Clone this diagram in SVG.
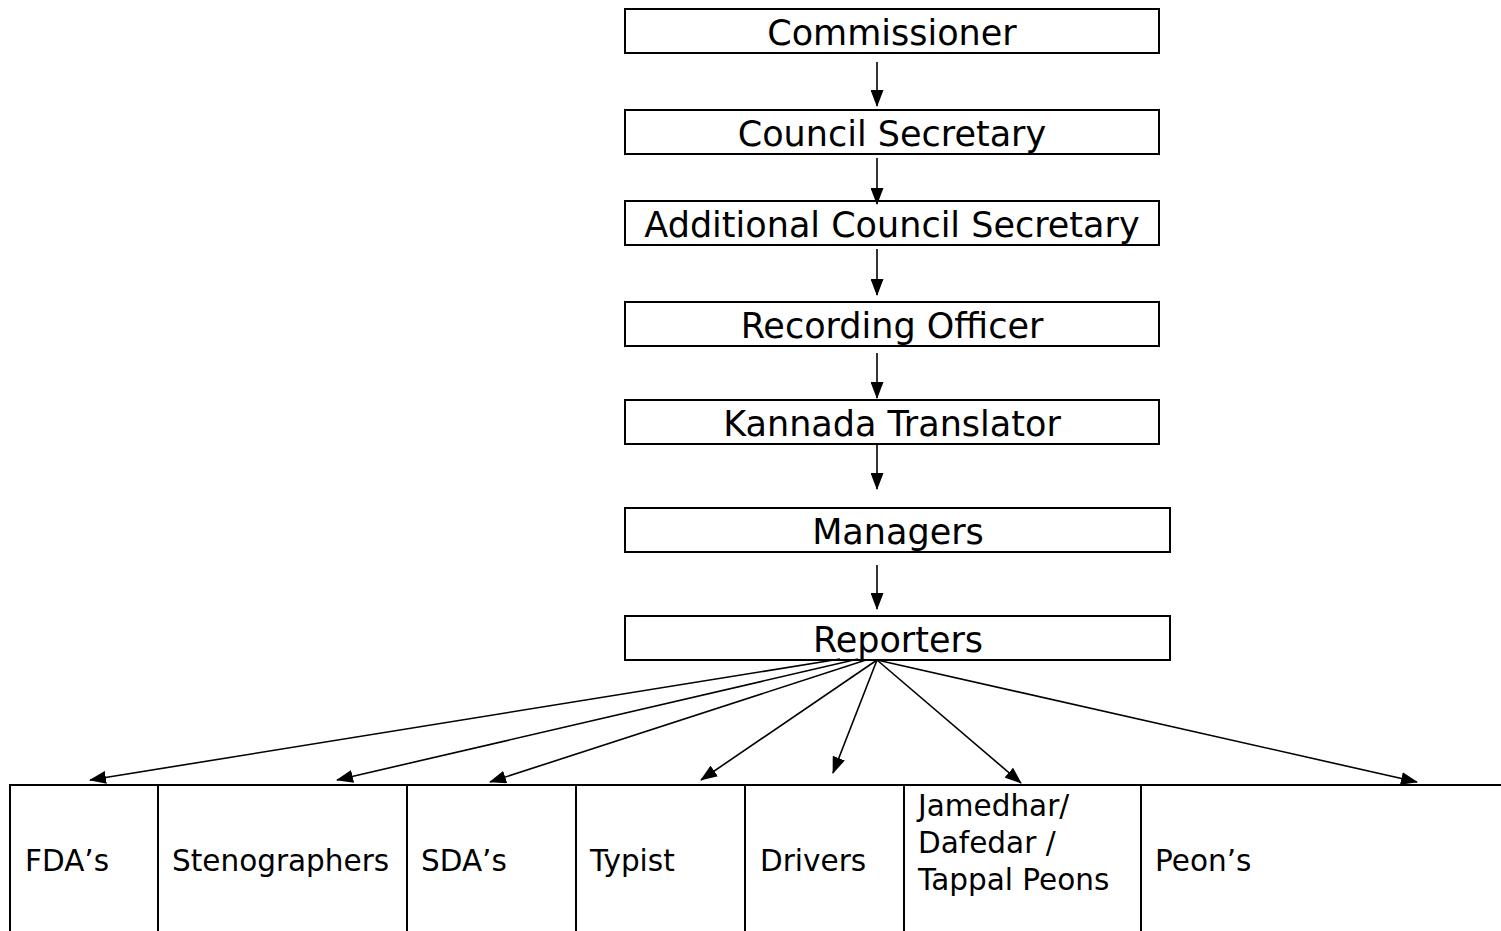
<svg xmlns="http://www.w3.org/2000/svg" width="1501" height="931" viewBox="0 0 1501 931">
<style>
.box{fill:#fff;stroke:#000;stroke-width:2}
.t{font-family:"DejaVu Sans",Verdana,sans-serif;font-size:35px;fill:#000;text-anchor:middle}
.b{font-family:"DejaVu Sans",Verdana,sans-serif;font-size:29.5px;fill:#000}
.c line{stroke:#000;stroke-width:1.6}
.g line{stroke:#000;stroke-width:2}
</style>
<defs>
<marker id="ah" markerUnits="userSpaceOnUse" markerWidth="17" markerHeight="13" refX="16" refY="6.5" orient="auto">
<path d="M0,0 L17,6.5 L0,13 Z" fill="#000"/>
</marker>
</defs>
<rect width="1501" height="931" fill="#fff"/>
<g id="commissioner"><rect class="box" x="625" y="9" width="534" height="44"/><text class="t" x="892" y="45">Commissioner</text></g>
<g id="council-secretary"><rect class="box" x="625" y="110" width="534" height="44"/><text class="t" x="892" y="146">Council Secretary</text></g>
<g id="additional-council-secretary"><rect class="box" x="625" y="201" width="534" height="44"/><text class="t" x="892" y="237">Additional Council Secretary</text></g>
<g id="recording-officer"><rect class="box" x="625" y="302" width="534" height="44"/><text class="t" x="892" y="338">Recording Officer</text></g>
<g id="kannada-translator"><rect class="box" x="625" y="400" width="534" height="44"/><text class="t" x="892" y="436">Kannada Translator</text></g>
<g id="managers"><rect class="box" x="625" y="508" width="545" height="44"/><text class="t" x="898" y="544">Managers</text></g>
<g id="reporters"><rect class="box" x="625" y="616" width="545" height="44"/><text class="t" x="898" y="652">Reporters</text></g>
<g id="staff-table" class="g">
<line x1="10" y1="785" x2="1501" y2="785"/>
<line x1="10" y1="784" x2="10" y2="931"/>
<line x1="158" y1="785" x2="158" y2="931"/>
<line x1="407" y1="785" x2="407" y2="931"/>
<line x1="576" y1="785" x2="576" y2="931"/>
<line x1="745" y1="785" x2="745" y2="931"/>
<line x1="904" y1="785" x2="904" y2="931"/>
<line x1="1141" y1="785" x2="1141" y2="931"/>
</g>
<g id="fda"><text class="b" x="25" y="871">FDA’s</text></g>
<g id="stenographers"><text class="b" x="172" y="871">Stenographers</text></g>
<g id="sda"><text class="b" x="421" y="871">SDA’s</text></g>
<g id="typist"><text class="b" x="590" y="871">Typist</text></g>
<g id="drivers"><text class="b" x="760" y="871">Drivers</text></g>
<g id="jamedhar"><text class="b" x="918" y="816">Jamedhar/</text><text class="b" x="918" y="853">Dafedar /</text><text class="b" x="918" y="890">Tappal Peons</text></g>
<g id="peons"><text class="b" x="1155" y="871">Peon’s</text></g>
<g id="connectors" class="c">
<line x1="877" y1="62" x2="877" y2="106" marker-end="url(#ah)"/>
<line x1="877" y1="158" x2="877" y2="204" marker-end="url(#ah)"/>
<line x1="877" y1="249" x2="877" y2="295" marker-end="url(#ah)"/>
<line x1="877" y1="353" x2="877" y2="398" marker-end="url(#ah)"/>
<line x1="877" y1="444" x2="877" y2="489" marker-end="url(#ah)"/>
<line x1="877" y1="565" x2="877" y2="609" marker-end="url(#ah)"/>
<line x1="840" y1="659" x2="90" y2="780" marker-end="url(#ah)"/>
<line x1="858" y1="659" x2="337" y2="780" marker-end="url(#ah)"/>
<line x1="866" y1="660" x2="490" y2="782" marker-end="url(#ah)"/>
<line x1="877" y1="660" x2="701" y2="780" marker-end="url(#ah)"/>
<line x1="877" y1="660" x2="833" y2="773" marker-end="url(#ah)"/>
<line x1="877" y1="660" x2="1021" y2="783" marker-end="url(#ah)"/>
<line x1="877" y1="660" x2="1417" y2="782" marker-end="url(#ah)"/>
</g>
</svg>
